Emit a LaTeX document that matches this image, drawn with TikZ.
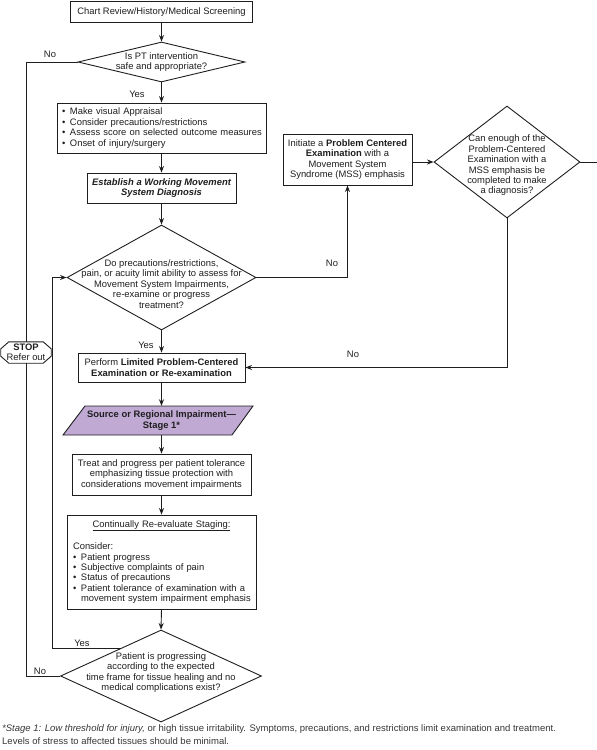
\documentclass[tikz,border=0pt]{standalone}
\usepackage{fontspec}
\setmainfont{Liberation Sans}
\usetikzlibrary{arrows.meta,shapes.geometric,calc}
\definecolor{lav}{RGB}{192,170,212}
\definecolor{inkc}{RGB}{30,30,30}
\definecolor{fnc}{RGB}{55,55,55}
\newcommand{\mf}{\fontsize{9.4}{10.4}\selectfont}
\newcommand{\fnf}{\fontsize{9.5}{13}\selectfont}
\newcommand{\bul}{\makebox[8pt][l]{\textbullet}}
\begin{document}
\begin{tikzpicture}[x=1pt,y=-1pt,
  every node/.style={font=\mf, text=inkc},
  box/.style={draw=inkc, line width=0.9pt, inner sep=0pt, align=center},
  dia/.style={draw=inkc, line width=0.9pt, diamond, inner sep=0pt},
  txt/.style={align=center, inner sep=0pt},
  conn/.style={draw=inkc, line width=0.9pt},
  arr/.style={conn, -{Stealth[length=6.5pt,width=5pt]}},
  lbl/.style={inner sep=0pt}]
\useasboundingbox (0,0) rectangle (597,750);

% top box
\node[box, minimum width=182, minimum height=21] (top) at (161.5,12) {Chart Review/History/Medical Screening};
% diamond 1
\node[dia, minimum width=167, minimum height=40] (d1) at (161.5,62) {};
\node[txt] (d1t) at (d1) {Is PT intervention\\safe and appropriate?};
% box 2
\node[box, minimum width=209, minimum height=50, text width=199, align=left] (b2) at (161.5,128)
 {\bul Make visual Appraisal\\
  \bul Consider precautions/restrictions\\
  \mbox{\bul Assess score on selected outcome measures}\\
  \bul Onset of injury/surgery};
% box 3
\node[box, minimum width=149, minimum height=30, font=\mf\bfseries\itshape] (b3) at (161.5,188)
 {Establish a Working Movement\\System Diagnosis};
% diamond 3
\node[dia, minimum width=189, minimum height=105] (d3) at (161.5,277.5) {};
\node[txt] (d3t) at (161.5,284) {Do precautions/restrictions,\\pain, or acuity limit ability to assess for\\Movement System Impairments,\\re-examine or progress\\treatment?};
% box 4
\node[box, minimum width=129, minimum height=51] (b4) at (347.5,159.5)
 {Initiate a \textbf{Problem Centered}\\\textbf{Examination} with a\\Movement System\\Syndrome (MSS) emphasis};
% diamond 5
\node[dia, minimum width=146, minimum height=112] (d5) at (507,162) {};
\node[txt] (d5t) at (507,165.5) {Can enough of the\\Problem-Centered\\Examination with a\\MSS emphasis be\\completed to make\\a diagnosis?};
\coordinate (rx) at (597,162);
% box 6
\node[box, minimum width=167, minimum height=29] (b6) at (161.5,367.5)
 {Perform \textbf{Limited Problem-Centered}\\\textbf{Examination or Re-examination}};
% stop
\node[txt, minimum width=50, minimum height=21] (stop) at (26,352.5) {\textbf{STOP}\\Refer out};
\draw[conn] ($(stop.north west)+(8,0)$) -- ($(stop.north east)+(-8,0)$) -- ($(stop.north east)+(0,7)$)
  -- ($(stop.south east)+(0,-7)$) -- ($(stop.south east)+(-8,0)$) -- ($(stop.south west)+(8,0)$)
  -- ($(stop.south west)+(0,-7)$) -- ($(stop.north west)+(0,7)$) -- cycle;
% parallelogram
\filldraw[fill=lav, draw=inkc, line width=0.9pt] (85,406) -- (253,406) -- (232,435) -- (63,435) -- cycle;
\node[txt, minimum width=146, minimum height=29, font=\mf\bfseries] (p) at (161.5,420.5)
 {Source or Regional Impairment---\\Stage 1*};
% box 7
\node[box, minimum width=179, minimum height=41] (b7) at (161.5,474.5)
 {Treat and progress per patient tolerance\\emphasizing tissue protection with\\considerations movement impairments};
% box 8
\node[box, minimum width=189, minimum height=94, text width=177, align=left] (b8) at (161.5,562)
 {\makebox[177pt]{\underline{Continually Re-evaluate Staging:}}\\[10.6pt]
  Consider:\\
  \bul Patient progress\\
  \bul Subjective complaints of pain\\
  \bul Status of precautions\\
  \mbox{\bul Patient tolerance of examination with a}\\
  \mbox{\hspace*{8pt}movement system impairment emphasis}};
% bottom diamond
\node[dia, minimum width=201, minimum height=92] (bd) at (161,676) {};
\node[txt] (bdt) at (161,672.5) {Patient is progressing\\according to the expected\\time frame for tissue healing and no\\medical complications exist?};

% connectors
\draw[arr] (top.south) -- (d1.north);
\draw[arr] (d1.south) -- (b2.north);
\draw[conn] (d1.west) -| (stop.north);
\draw[conn] (stop.south) |- (bd.west);
\draw[arr] (b2.south) -- (b3.north);
\draw[arr] (b3.south) -- (d3.north);
\draw[arr] (d3.east) -| (b4.south);
\draw[arr] (b4.east |- d5.west) -- (d5.west);
\draw[conn] (d5.east) -- (rx);
\draw[arr] (d5.south) |- (b6.east);
\draw[arr] (d3.south) -- (b6.north);
\draw[arr] (b6.south) -- (p.north);
\draw[arr] (p.south) -- (b7.north);
\draw[arr] (b7.south) -- (b8.north);
\draw[arr] (b8.south) -- (bd.north);
\coordinate (bde) at ($(bd.north)!0.4!(bd.west)$);
\coordinate (yx) at (52,0);
\draw[arr] (bde) -- (bde -| yx) |- (d3.west);

% labels
\node[lbl] (l1) at (50,54) {No};
\node[lbl] (l2) at (137,94) {Yes};
\node[lbl] (l3) at (332,263) {No};
\node[lbl] (l4) at (146,345) {Yes};
\node[lbl] (l5) at (353,354) {No};
\node[lbl] (l6) at (82,643) {Yes};
\node[lbl] (l7) at (40,671) {No};

% footnote
\node[anchor=north west, align=left, inner sep=0pt, font=\fnf, text=fnc] (fn) at (2,724)
 {\textit{*Stage 1: Low threshold for injury,} or high tissue irritability. Symptoms, precautions, and restrictions limit examination and treatment.\\
  Levels of stress to affected tissues should be minimal.};
\end{tikzpicture}
\end{document}
